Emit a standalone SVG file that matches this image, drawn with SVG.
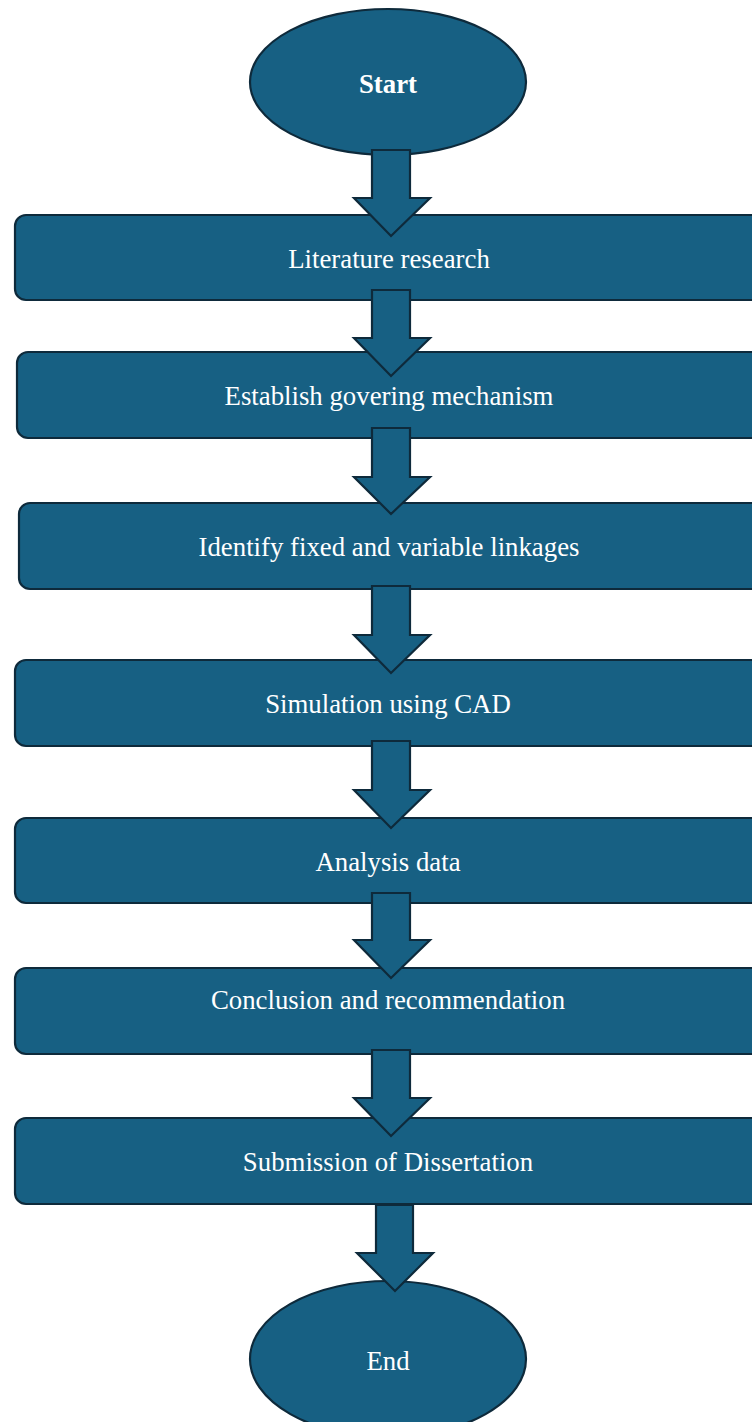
<svg xmlns="http://www.w3.org/2000/svg" width="752" height="1422" viewBox="0 0 752 1422">
<style>
.n{fill:#176083;stroke:#0e2a3b;stroke-width:2.2}
.t{fill:#ffffff;font-family:"Liberation Serif","Times New Roman",serif;font-size:26.8px;text-anchor:middle}
.b{font-weight:bold}
.a{fill:#176083;stroke:#0e2a3b;stroke-width:2.2;stroke-linejoin:miter}
</style>
<rect width="752" height="1422" fill="#ffffff"/>
<g id="start"><ellipse class="n" cx="388" cy="82" rx="138" ry="73"/><text class="t b" x="388" y="93">Start</text></g>
<g id="n1"><rect class="n" x="15" y="215" width="750" height="85" rx="11"/><text class="t" x="389" y="268">Literature research</text></g>
<g id="n2"><rect class="n" x="17" y="352" width="750" height="86" rx="11"/><text class="t" x="389" y="405">Establish govering mechanism</text></g>
<g id="n3"><rect class="n" x="19" y="503" width="750" height="86" rx="11"/><text class="t" x="389" y="556">Identify fixed and variable linkages</text></g>
<g id="n4"><rect class="n" x="15" y="660" width="750" height="86" rx="11"/><text class="t" x="388" y="713">Simulation using CAD</text></g>
<g id="n5"><rect class="n" x="15" y="818" width="750" height="85" rx="11"/><text class="t" x="388" y="871">Analysis data</text></g>
<g id="n6"><rect class="n" x="15" y="968" width="750" height="86" rx="11"/><text class="t" x="388" y="1009">Conclusion and recommendation</text></g>
<g id="n7"><rect class="n" x="15" y="1118" width="750" height="86" rx="11"/><text class="t" x="388" y="1171">Submission of Dissertation</text></g>
<g id="end"><ellipse class="n" cx="388" cy="1359" rx="138" ry="78"/><text class="t" x="388" y="1370">End</text></g>
<g id="connectors">
<polygon class="a" points="372,150 410,150 410,198 430,198 391,236 354,198 372,198"/>
<polygon class="a" points="372,290 410,290 410,338 430,338 391,376 354,338 372,338"/>
<polygon class="a" points="372,428 410,428 410,477 430,477 391,514 354,477 372,477"/>
<polygon class="a" points="372,586 410,586 410,635 430,635 391,673 354,635 372,635"/>
<polygon class="a" points="372,741 410,741 410,790 430,790 391,828 354,790 372,790"/>
<polygon class="a" points="372,893 410,893 410,940 430,940 391,978 354,940 372,940"/>
<polygon class="a" points="372,1050 410,1050 410,1098 430,1098 391,1136 354,1098 372,1098"/>
<polygon class="a" points="376,1205 413,1205 413,1253 433,1253 395,1291 357,1253 376,1253"/>
</g>
</svg>
